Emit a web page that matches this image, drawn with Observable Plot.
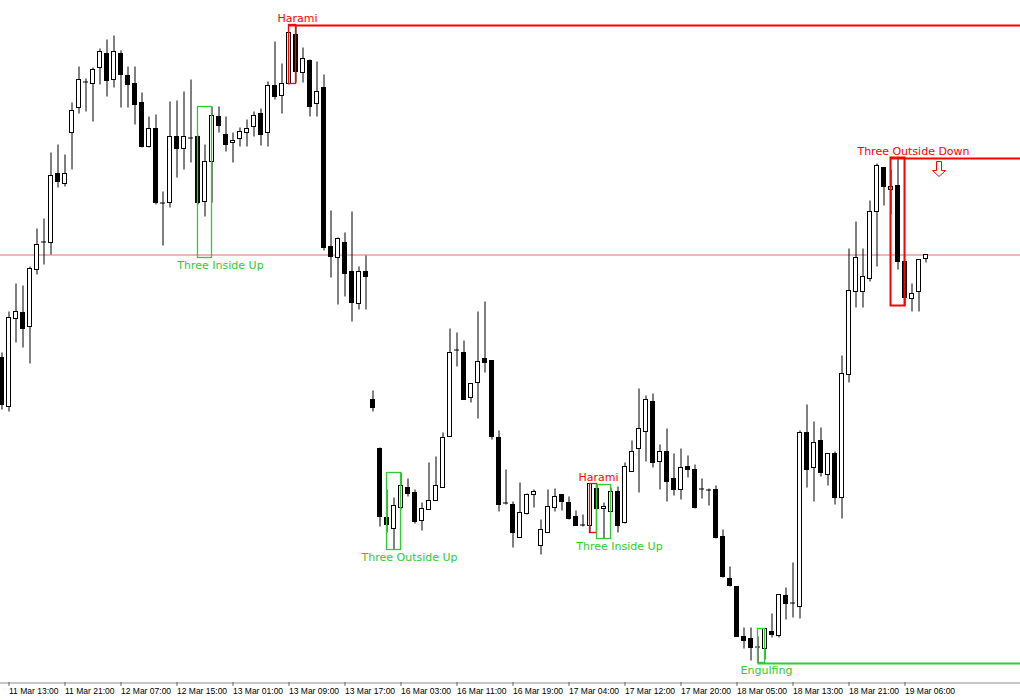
<!DOCTYPE html>
<html>
<head>
<meta charset="utf-8">
<script src="https://cdn.jsdelivr.net/npm/d3@7"></script>
<script src="https://cdn.jsdelivr.net/npm/@observablehq/plot@0.6"></script>
<style>
html, body { margin: 0; padding: 0; background: #fff; }
#chart svg { display: block; }
</style>
</head>
<body>
<div id="chart"></div>
<script>
// Hourly OHLC (price in chart points; higher = up), bar 0 = 11 Mar 12:00
const open = [342,293,381,387,373,430,458,457,526,516,567,592,618,616,632,646,620,646,624,616,
597,553,571,497,497,563,551,562,563,498,538,583,565,557,561,567,573,586,567,614,
604,616,665,627,639,596,612,453,442,457,428,396,428,300,251,182,171,192,212,207,
179,190,199,212,263,350,347,302,317,341,339,262,197,195,162,186,205,154,167,192,
205,197,183,175,174,211,191,188,208,177,228,251,268,298,238,248,221,210,233,230,
211,210,210,163,121,113,63,61,53,51,68,64,104,97,93,267,232,259,225,246,
202,325,408,408,421,488,532,510,514,438,401,408,441];
const high = [347,388,416,414,433,471,481,547,555,545,597,633,621,632,651,660,664,649,633,633,
607,583,585,508,598,599,608,620,564,555,593,593,583,567,572,580,588,591,618,658,
636,667,675,652,640,638,625,489,462,467,488,433,444,309,252,210,202,227,221,210,
197,237,243,267,371,367,359,316,388,398,339,269,230,198,217,206,210,180,210,211,
205,203,189,185,216,215,197,212,213,237,259,311,304,306,255,271,246,251,244,235,
221,211,214,170,133,113,72,72,63,71,86,105,112,137,269,295,278,272,246,248,
344,451,478,451,499,536,532,530,542,438,416,440,445];
const low = [290,288,357,352,336,425,435,445,512,513,530,586,588,578,615,603,612,592,592,575,
552,552,495,454,492,522,530,537,495,483,497,567,548,537,553,553,563,554,553,600,
586,615,617,617,583,583,449,422,395,403,378,390,390,288,173,167,150,190,203,176,
169,190,199,212,263,333,300,297,281,327,260,188,195,152,162,185,192,145,167,188,
189,180,174,173,167,191,161,188,167,176,228,207,238,232,210,198,204,200,222,191,
201,194,161,122,113,63,51,39,37,40,62,62,80,82,81,212,198,223,214,195,
181,317,392,392,418,433,494,485,430,394,388,388,437];
const close = [295,382,388,371,431,455,458,524,518,526,589,620,618,630,648,619,648,625,615,595,
553,571,497,497,563,551,563,562,497,538,584,574,555,559,568,571,584,565,614,603,
616,667,628,641,593,608,452,443,461,426,397,428,423,292,183,175,194,214,206,178,
191,199,214,262,347,350,300,316,338,337,263,195,197,167,187,205,208,170,193,203,
198,181,174,175,216,191,193,208,174,233,248,271,300,237,248,218,210,232,230,192,
211,210,162,123,114,63,59,52,53,71,65,105,96,97,267,230,257,227,246,202,
326,409,442,423,488,534,513,513,438,402,406,440,445];

// Time-axis labels, one every 8 bars
const tickBars = [1,9,17,25,33,41,49,57,65,73,81,89,97,105,113,121,129];
const tickLabels = ["11 Mar 13:00","11 Mar 21:00","12 Mar 07:00","12 Mar 15:00","13 Mar 01:00",
  "13 Mar 09:00","13 Mar 17:00","16 Mar 03:00","16 Mar 11:00","16 Mar 19:00","17 Mar 04:00",
  "17 Mar 12:00","17 Mar 20:00","18 Mar 05:00","18 Mar 13:00","18 Mar 21:00","19 Mar 06:00"];

// Recognised candlestick patterns (bar range, price range)
const patternNames  = ["Three Inside Up","Harami","Three Outside Up","Harami","Three Inside Up","Engulfing","Three Outside Down"];
const patternStart  = [28, 41, 55, 84, 85, 108, 127];
const patternEnd    = [30, 42, 57, 85, 87, 109, 129];
const patternHigh   = [593, 675, 227, 216, 215, 71, 542];
const patternLow    = [442, 616, 150, 167, 161, 37, 394];
const patternBull   = [true, false, true, false, true, true, false];
const patternLevel  = [null, "high", null, null, null, "low", "high"];   // unbroken levels extended right

const signalBar = [134];
const signalPrice = [531];

const GREEN = "#2ecc2e", RED = "#ff0000";
const bars = open.map((o, i) => ({i, open: o, high: high[i], low: low[i], close: close[i], up: close[i] > o}));
const patterns = patternNames.map((name, k) => ({
  name, start: patternStart[k], end: patternEnd[k], high: patternHigh[k], low: patternLow[k],
  bull: patternBull[k], color: patternBull[k] ? GREEN : RED, level: patternLevel[k],
  last: k === patternNames.length - 1
}));
const xDomain = [-1.5 / 7, 1018.5 / 7];
const yDomain = [17.5, 699.5];
const levels = patterns.filter(p => p.level).map(p => ({
  value: p.level === "high" ? p.high : p.low, start: p.start, color: p.color
}));
const lastPrice = close[close.length - 1];
const labelOf = new Map(tickBars.map((b, k) => [b, tickLabels[k]]));
const signals = signalBar.map((b, k) => ({bar: b, price: signalPrice[k]}));

const arrowDown = {
  draw(ctx) {
    ctx.moveTo(-2.5, -7.5); ctx.lineTo(2.5, -7.5); ctx.lineTo(2.5, 1.5); ctx.lineTo(6.5, 1.5);
    ctx.lineTo(0, 7.5); ctx.lineTo(-6.5, 1.5); ctx.lineTo(-2.5, 1.5); ctx.closePath();
  }
};

const chart = Plot.plot({
  width: 1020, height: 700,
  marginTop: 0, marginRight: 0, marginBottom: 18, marginLeft: 0,
  x: {domain: xDomain, axis: null},
  y: {domain: yDomain, axis: null},
  color: {type: "identity"},
  style: {background: "white", overflow: "visible"},
  marks: [
    Plot.ruleY([lastPrice], {stroke: "#e06c6c", strokeWidth: 1}),
    Plot.ruleY([yDomain[0]], {stroke: "#8c8c8c", dy: 0.5}),
    Plot.axisX(tickBars, {
      anchor: "bottom", tickSize: 4, tickPadding: 1, tickFormat: d => labelOf.get(d),
      textAnchor: "start", fontSize: 8.5, fontFamily: "Liberation Sans, Arial, sans-serif",
      color: "#000", stroke: "#666", label: null
    }),
    Plot.ruleX(bars, {x: "i", y1: "low", y2: "high", stroke: "black"}),
    Plot.rect(bars.filter(d => d.open !== d.close), {
      x1: d => d.i - 2 / 7, x2: d => d.i + 2 / 7, y1: "open", y2: "close",
      fill: d => d.up ? "white" : "black", stroke: "black", strokeWidth: 1
    }),
    Plot.ruleY(bars.filter(d => d.open === d.close), {
      y: "open", x1: d => d.i - 2.5 / 7, x2: d => d.i + 2.5 / 7, stroke: "black"
    }),
    Plot.ruleY(levels, {y: "value", x1: "start", x2: () => xDomain[1], stroke: "color", strokeWidth: 2, dy: 0.5}),
    Plot.rect(patterns, {
      x1: "start", x2: "end", y1: "low", y2: "high", fill: "none",
      stroke: "color", strokeWidth: d => d.last ? 2 : 1.3
    }),
    Plot.text(patterns, {
      x: d => d.end + (d.end - d.start === 2 ? 8.5 : 1.5) / 7,
      y: d => d.bull ? d.low - 7.5 : d.high + 7,
      text: "name", fill: "color", fontSize: 11, fontFamily: "DejaVu Sans, sans-serif",
      textAnchor: "middle", lineAnchor: "middle"
    }),
    Plot.dot(signals, {x: "bar", y: "price", symbol: arrowDown, r: 5, fill: "white", stroke: RED, strokeWidth: 1, dx: -1})
  ]
});
document.getElementById("chart").appendChild(chart);
</script>
</body>
</html>
